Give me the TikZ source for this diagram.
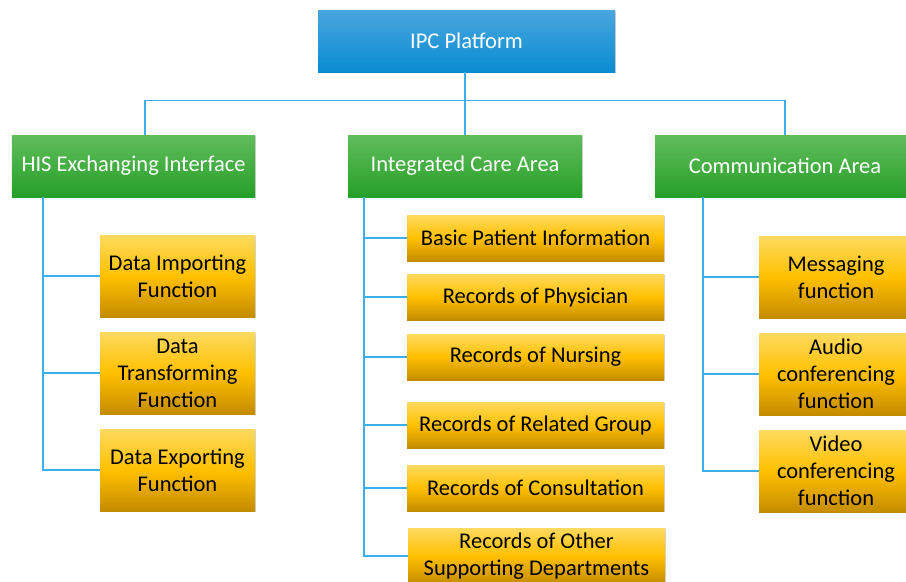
\documentclass[tikz,border=0pt]{standalone}
\usepackage{fontspec}
\setmainfont{Carlito}
\usetikzlibrary{arrows, shapes, shadows, positioning}

\definecolor{ipctop}{HTML}{4AA6DE}
\definecolor{ipcbot}{HTML}{0A8CD2}
\definecolor{areatop}{HTML}{62BC5C}
\definecolor{areabot}{HTML}{25A028}
\definecolor{functop}{HTML}{FFDA60}
\definecolor{funcmid}{HTML}{FFC000}
\definecolor{funcbot}{HTML}{C48C00}
\definecolor{linkblue}{HTML}{3CAEEA}

\begin{document}
\begin{tikzpicture}[scale=1]
 \tikzstyle{box}=[rectangle, inner sep = 2pt, align=center, font=\fontsize{12.8}{15.4}\selectfont, drop shadow={shadow xshift=0.8pt, shadow yshift=-0.8pt, opacity=0.35}]
 \tikzstyle{topbox}=[box, top color=ipctop, bottom color=ipcbot, text=white, minimum width=5.94cm, minimum height=1.24cm]
 \tikzstyle{areabox}=[box, top color=areatop, bottom color=areabot, text=white, minimum height=1.24cm]
 \tikzstyle{funcbox}=[box, top color=functop, bottom color=funcbot, middle color=funcmid, text=black]
 \tikzstyle{line}=[draw, color=linkblue, line width=0.85pt]

 \useasboundingbox (0,0) rectangle (18.12,-11.62);

 % platform and areas
 \node[topbox] (ipc) at (9.33,-0.82) {IPC Platform};
 \node[areabox, minimum width=4.86cm] (his) at (2.67,-3.32) {HIS Exchanging Interface};
 \node[areabox, minimum width=4.68cm] (care) at (9.30,-3.32) {Integrated Care Area};
 \node[areabox, minimum width=5.20cm] (comm) at (15.70,-3.32) {Communication Area};

 \coordinate (busL) at (2.90,-2.01);
 \coordinate (busR) at (15.70,-2.01);
 \path [line] (his.north -| busL) -- (busL) -- (busR) -- (comm.north -| busR);
 \path [line] (ipc.south -| care.north) -- (care.north);

 % HIS functions
 \begin{scope}[every node/.style={funcbox, minimum width=3.10cm, minimum height=1.64cm}]
  \node (d1) at (3.55,-5.52) {Data Importing\\Function};
  \node (d2) at (3.55,-7.46) {Data\\Transforming\\Function};
  \node (d3) at (3.55,-9.40) {Data Exporting\\Function};
 \end{scope}
 \coordinate (trunkL) at (0.86,0);
 \path [line] (his.south -| trunkL) |- (d3.west);
 \foreach \n in {d1, d2}
  \path [line] (trunkL |- \n.west) -- (\n.west);

 % care records
 \begin{scope}[every node/.style={funcbox, minimum width=5.14cm, minimum height=0.92cm}]
  \node (r1) at (10.71,-4.76) {Basic Patient Information};
  \node (r2) at (10.71,-5.94) {Records of Physician};
  \node (r3) at (10.71,-7.14) {Records of Nursing};
  \node (r4) at (10.71,-8.50) {Records of Related Group};
  \node (r5) at (10.71,-9.76) {Records of Consultation};
  \node[minimum height=1.12cm] (r6) at (10.73,-11.12) {Records of Other\\Supporting Departments};
 \end{scope}
 \coordinate (trunkM) at (7.28,0);
 \path [line] (care.south -| trunkM) |- (r6.west);
 \foreach \n in {r1, r2, r3, r4, r5}
  \path [line] (trunkM |- \n.west) -- (\n.west);

 % communication functions
 \begin{scope}[every node/.style={funcbox, minimum width=3.08cm, minimum height=1.64cm}]
  \node (c1) at (16.72,-5.54) {Messaging\\function};
  \node (c2) at (16.72,-7.48) {Audio\\conferencing\\function};
  \node (c3) at (16.72,-9.42) {Video\\conferencing\\function};
 \end{scope}
 \coordinate (trunkR) at (14.06,0);
 \path [line] (comm.south -| trunkR) |- (c3.west);
 \foreach \n in {c1, c2}
  \path [line] (trunkR |- \n.west) -- (\n.west);

\end{tikzpicture}
\end{document}
